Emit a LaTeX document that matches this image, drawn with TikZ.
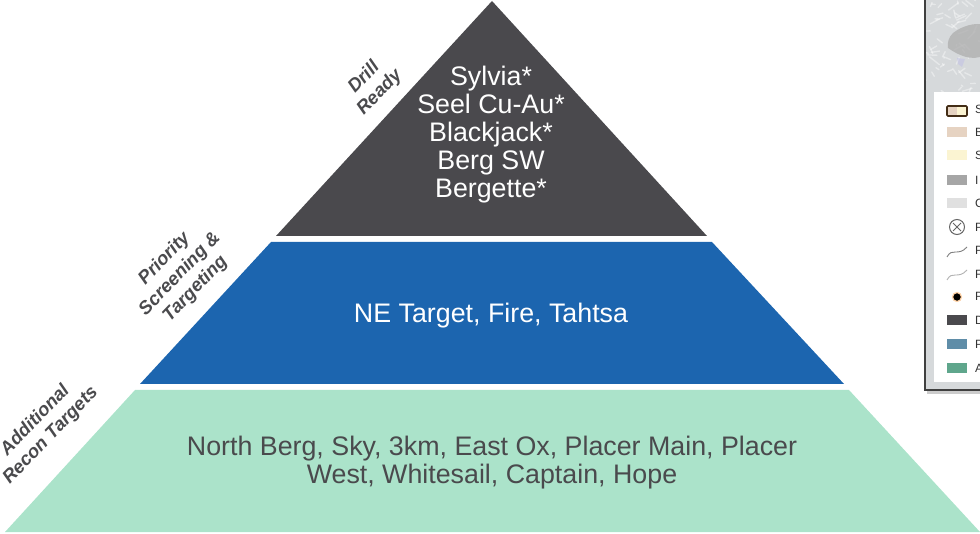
\documentclass[tikz,border=0pt]{standalone}
\usepackage{fontspec}
\setmainfont{Liberation Sans}
\usetikzlibrary{calc}
\definecolor{tierdark}{HTML}{4A494D}
\definecolor{tierblue}{HTML}{1C65AF}
\definecolor{tiergreen}{HTML}{ABE3CA}
\definecolor{textdark}{HTML}{4A4A4D}
\definecolor{mapbase}{HTML}{D6D9DB}
\definecolor{keysand}{HTML}{E6D3C2}
\definecolor{keycream}{HTML}{FBF4D2}
\definecolor{keyblue}{HTML}{5F8DA8}
\definecolor{keygreen}{HTML}{5FA68C}
\tikzstyle{tier} = [inner sep=0pt, align=center, font=\fontsize{26.8}{28}\selectfont]
\tikzstyle{side} = [inner sep=0pt, align=center, rotate=46, text=textdark, font=\fontsize{18.5}{21.5}\selectfont\bfseries\itshape]
\tikzstyle{swatch} = [minimum width=20pt, minimum height=10pt, inner sep=0pt]
\tikzstyle{key} = [inner sep=0pt, anchor=west, text=black!80, font=\fontsize{12}{12}\selectfont]
\begin{document}
\begin{tikzpicture}[x=1pt, y=-1pt]
    \useasboundingbox (0,0) rectangle (980,534);
    % Pyramid
    \fill [tierdark] (492,1) -- (707,236) -- (276,236) -- cycle;
    \fill [tierblue] (271,242) -- (712,242) -- (844,384) -- (140,384) -- cycle;
    \fill [tiergreen] (135,390) -- (849,390) -- (980,532) -- (5,532) -- cycle;
    % Tier labels
    \node [tier, text=white] (drill) at (491,134.5) {Sylvia*\\Seel Cu-Au*\\Blackjack*\\Berg SW\\Bergette*};
    \node [tier, text=white] (priority) at (491,316) {NE Target, Fire, Tahtsa};
    \node [tier, text=textdark] (recon) at (492,463) {North Berg, Sky, 3km, East Ox, Placer Main, Placer\\West, Whitesail, Captain, Hope};
    % Side labels
    \node [side] (side_drill) at (372,85) {Drill\\Ready};
    \node [side] (side_priority) at (180,274) {Priority\\Screening \&\\Targeting};
    \node [side] (side_recon) at (43,428) {Additional\\Recon Targets};
    % Map panel
    \fill [black!20] (927,390) rectangle (980,394);
    \fill [mapbase] (925,0) rectangle (980,390);
    \begin{scope}
        \clip (925,0) rectangle (980,92);
        \pgfmathsetseed{11}
        \foreach \i in {1,...,60}
        {
            \pgfmathsetmacro{\xa}{926+rnd*54}
            \pgfmathsetmacro{\ya}{rnd*92}
            \pgfmathsetmacro{\xb}{\xa-10+rnd*20}
            \pgfmathsetmacro{\yb}{\ya-8+rnd*16}
            \draw [white, opacity=0.4, line width=1.4pt, line cap=round] (\xa,\ya) -- (\xb,\yb);
        }
        \fill [black!32, opacity=0.75] (953,33) .. controls (962,26) and (975,22) .. (985,25) -- (985,55) .. controls (972,62) and (958,55) .. (948,48) .. controls (947,42) and (949,37) .. cycle;
        \fill [black!40!blue!25, opacity=0.5] (957,58) -- (965,59) -- (962,67) -- (958,64) -- cycle;
    \end{scope}
    \fill [white] (934,92) rectangle (980,382);
    \draw [black!75, line width=2pt] (925,0) -- (925,390) -- (980,390);
    % Legend
    \node [draw=black!65!brown, line width=1.6pt, fill=keysand, swatch, rounded corners=1pt] (key_a) at (957,111) {};
    \fill [keycream] (957,107) rectangle (966,115);
    \node [key] (key_a_text) at (975,109) {S};
    \foreach \name/\ypos/\shade/\letter in {b/132/keysand/B, c/155/keycream/S, d/180/black!35/I, e/203/black!12/C, j/320/tierdark/D, k/344/keyblue/P, l/368/keygreen/A}
    {
        \node [swatch, fill=\shade] (key_\name) at (957,\ypos) {};
        \node [key] (key_\name_text) at (975,\ypos) {\letter};
    }
    \node [draw=black!60, line width=1pt, circle, minimum size=15pt, inner sep=0pt] (key_f) at (957,227) {};
    \draw [black!60, line width=1pt] (953,223) -- (961,231) (961,223) -- (953,231);
    \node [key] (key_f_text) at (975,227) {P};
    \draw [black!50, line width=0.9pt] (947,257) .. controls (952,247) and (958,257) .. (967,247);
    \node [key] (key_g_text) at (975,250) {P};
    \draw [black!30, line width=0.9pt] (947,280) .. controls (952,270) and (958,280) .. (967,270);
    \node [key] (key_h_text) at (975,274) {F};
    \node [circle, fill=black, draw=orange!35, line width=1.2pt, minimum size=9pt, inner sep=0pt] (key_i) at (957,297) {};
    \node [key] (key_i_text) at (975,296) {P};
\end{tikzpicture}
\end{document}
